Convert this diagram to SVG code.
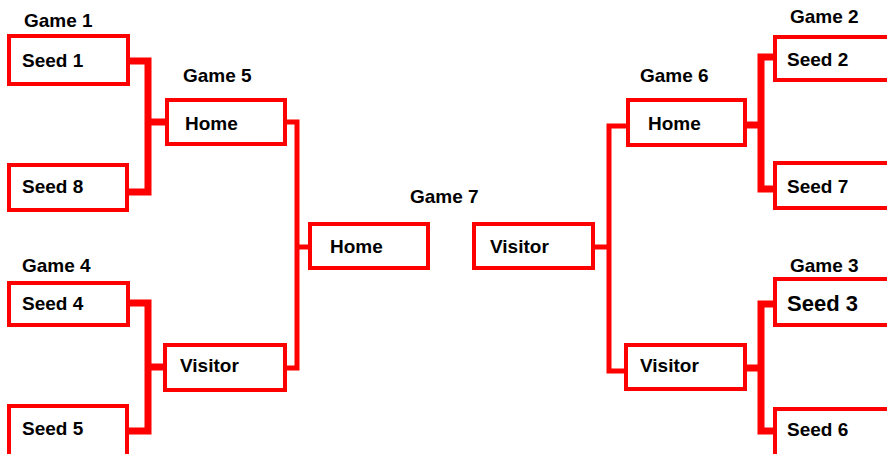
<svg xmlns="http://www.w3.org/2000/svg" width="887" height="454" viewBox="0 0 887 454">
  <style>
    .box { fill: #ffffff; stroke: #ff0000; stroke-width: 4; }
    .wire { fill: none; stroke: #ff0000; stroke-width: 7; stroke-linejoin: miter; }
    .wire.thin { stroke-width: 5; }
    .lbl { font-family: "Liberation Sans", Arial, sans-serif; font-size: 19px; font-weight: bold; fill: #000000; }
    .big { font-family: "Liberation Sans", Arial, sans-serif; font-size: 22px; font-weight: bold; fill: #000000; }
  </style>
  <rect width="887" height="454" fill="#ffffff"/>

  <!-- bracket connectors -->
  <g id="connectors">
    <polyline class="wire" points="130,61 148,61 148,192 129,192"/>
    <line class="wire" x1="148" y1="122" x2="167" y2="122"/>
    <polyline class="wire" points="130,303 148,303 148,431 129,431"/>
    <line class="wire" x1="148" y1="367" x2="165" y2="367"/>
    <polyline class="wire thin" points="286,122 297,122 297,368 286,368"/>
    <line class="wire thin" x1="297" y1="247" x2="310" y2="247"/>
    <polyline class="wire thin" points="629,126 609,126 609,371 626,371"/>
    <line class="wire thin" x1="594" y1="247" x2="609" y2="247"/>
    <polyline class="wire" points="775,57 761,57 761,189 775,189"/>
    <line class="wire" x1="746" y1="125" x2="761" y2="125"/>
    <polyline class="wire" points="775,304 761,304 761,431 775,431"/>
    <line class="wire" x1="746" y1="368" x2="761" y2="368"/>
  </g>

  <!-- left half -->
  <g id="game1">
    <text class="lbl" x="24" y="27">Game 1</text>
    <g id="seed1"><rect class="box" x="9" y="36" width="119" height="48"/><text class="lbl" x="22" y="67">Seed 1</text></g>
    <g id="seed8"><rect class="box" x="9" y="165" width="118" height="45"/><text class="lbl" x="22" y="193">Seed 8</text></g>
  </g>
  <g id="game4">
    <text class="lbl" x="22" y="272">Game 4</text>
    <g id="seed4"><rect class="box" x="9" y="283" width="119" height="42"/><text class="lbl" x="22" y="310">Seed 4</text></g>
    <g id="seed5"><rect class="box" x="9" y="406" width="118" height="52"/><text class="lbl" x="22" y="435">Seed 5</text></g>
  </g>
  <g id="game5">
    <text class="lbl" x="183" y="82">Game 5</text>
    <g id="game5-home"><rect class="box" x="167" y="100" width="118" height="44"/><text class="lbl" x="185" y="130">Home</text></g>
    <g id="game5-visitor"><rect class="box" x="165" y="345" width="120" height="45"/><text class="lbl" x="180" y="372">Visitor</text></g>
  </g>

  <!-- final -->
  <g id="game7">
    <text class="lbl" x="410" y="203">Game 7</text>
    <g id="game7-home"><rect class="box" x="310" y="224" width="118" height="44"/><text class="lbl" x="330" y="253">Home</text></g>
    <g id="game7-visitor"><rect class="box" x="474" y="224" width="119" height="44"/><text class="lbl" x="490" y="253">Visitor</text></g>
  </g>

  <!-- right half -->
  <g id="game6">
    <text class="lbl" x="640" y="82">Game 6</text>
    <g id="game6-home"><rect class="box" x="628" y="100" width="117" height="45"/><text class="lbl" x="648" y="130">Home</text></g>
    <g id="game6-visitor"><rect class="box" x="626" y="345" width="119" height="44"/><text class="lbl" x="640" y="372">Visitor</text></g>
  </g>
  <g id="game2">
    <text class="lbl" x="790" y="23">Game 2</text>
    <g id="seed2"><rect class="box" x="775" y="37" width="120" height="43"/><text class="lbl" x="787" y="66">Seed 2</text></g>
    <g id="seed7"><rect class="box" x="775" y="163" width="120" height="45"/><text class="lbl" x="787" y="193">Seed 7</text></g>
  </g>
  <g id="game3">
    <text class="lbl" x="790" y="272">Game 3</text>
    <g id="seed3"><rect class="box" x="775" y="279" width="120" height="46"/><text class="big" x="787" y="311">Seed 3</text></g>
    <g id="seed6"><rect class="box" x="775" y="409" width="120" height="52"/><text class="lbl" x="787" y="436">Seed 6</text></g>
  </g>
</svg>
